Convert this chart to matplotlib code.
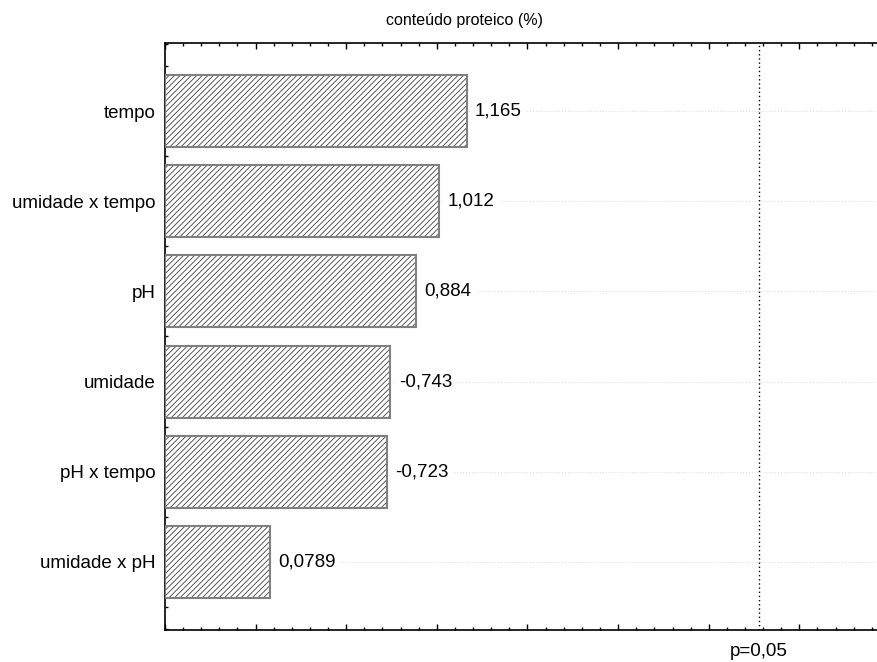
import matplotlib.pyplot as plt
from matplotlib.ticker import MultipleLocator
from matplotlib.transforms import blended_transform_factory

plt.rcParams["font.family"] = ["Liberation Sans", "DejaVu Sans"]
plt.rcParams["hatch.linewidth"] = 0.6

# standardized effects (Pareto chart), largest first
factors = ["tempo", "umidade x tempo", "pH", "umidade", "pH x tempo", "umidade x pH"]
effects = [1.165, 1.012, 0.884, -0.743, -0.723, 0.0789]
p_crit = 2.776
title = "conteúdo proteico (%)"

X_MIN, X_MAX = -0.5, 3.5

fig = plt.figure(figsize=(8.78, 6.62), dpi=100)
ax = fig.add_axes([165 / 878, 32 / 662, 725 / 878, 587 / 662])

ypos = list(range(len(factors)))
widths = [abs(e) - X_MIN for e in effects]

# hatched fill, then the gray outline on top
ax.barh(ypos, widths, left=X_MIN, height=0.8, color="white",
        edgecolor="#404040", hatch="//////", linewidth=0, zorder=2)
ax.barh(ypos, widths, left=X_MIN, height=0.8, fill=False,
        edgecolor="#808080", linewidth=1.5, zorder=3)

for y, e in zip(ypos, effects):
    ax.annotate(str(e).replace(".", ","), xy=(abs(e), y), xytext=(6, 0),
                textcoords="offset points", va="center", ha="left",
                fontsize=13.5, zorder=4,
                bbox=dict(boxstyle="square,pad=0.25", fc="white", ec="none"))

ax.axvline(p_crit, color="black", linestyle=(0, (1, 2)), linewidth=1.0, zorder=3)
trans = blended_transform_factory(ax.transData, ax.transAxes)
ax.text(p_crit, -0.036, "p=0,05", transform=trans, ha="center", va="center",
        fontsize=13.5)

ax.set_xlim(X_MIN, X_MAX)
ax.set_ylim(5.756, -0.756)
ax.set_yticks(ypos)
ax.set_yticklabels(factors, fontsize=13.5)
ax.yaxis.set_minor_locator(MultipleLocator(0.25))
ax.xaxis.set_major_locator(MultipleLocator(0.5))
ax.xaxis.set_minor_locator(MultipleLocator(0.1))

ax.grid(axis="y", which="major", color="#d8d8d8", linestyle=(0, (1, 2)),
        linewidth=0.7, zorder=0)
ax.set_axisbelow(True)

ax.tick_params(axis="x", which="both", direction="in", top=True, bottom=True,
               labelbottom=False, width=1.0, color="black")
ax.tick_params(axis="x", which="major", length=4.5)
ax.tick_params(axis="x", which="minor", length=2.5)
ax.tick_params(axis="y", which="both", direction="in", left=True, right=False,
               width=1.0, pad=7)
ax.tick_params(axis="y", which="major", length=0)
ax.tick_params(axis="y", which="minor", length=2.5)

for side in ["left", "top", "bottom"]:
    ax.spines[side].set_linewidth(1.2)
    ax.spines[side].set_color("black")
ax.spines["right"].set_visible(False)

fig.text(465 / 878, 1 - 20 / 662, title, ha="center", va="center", fontsize=11.5)

fig.savefig("out.png", dpi=100)
